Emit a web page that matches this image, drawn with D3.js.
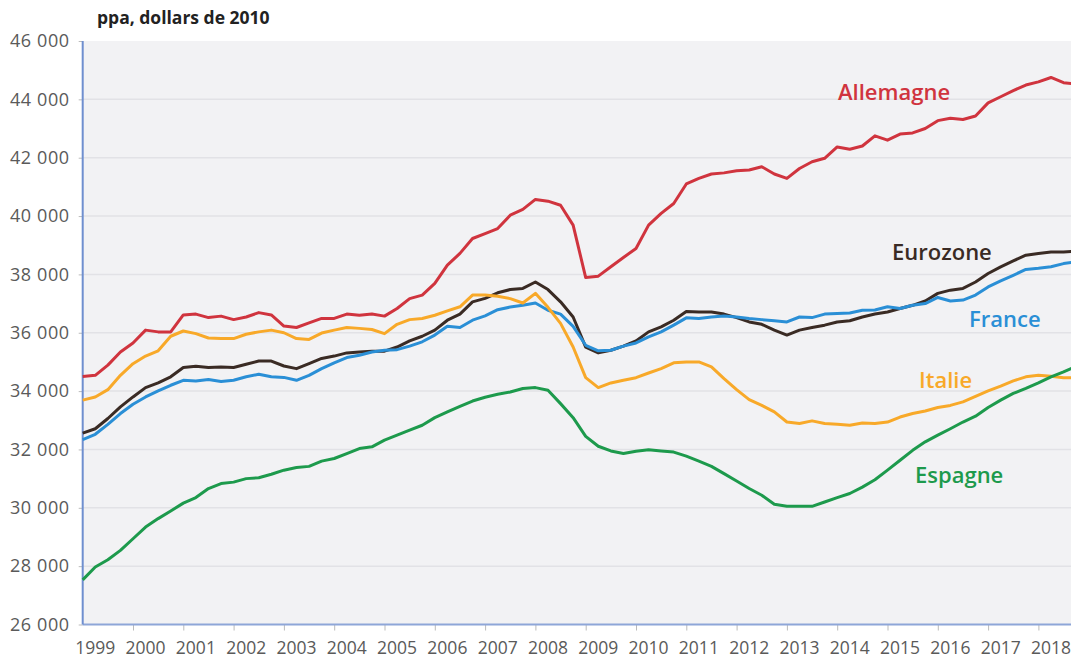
<!DOCTYPE html>
<html>
<head>
<meta charset="utf-8">
<script src="https://cdn.jsdelivr.net/npm/d3@7"></script>
<style>
  body { margin: 0; background: #fff; }
  svg { display: block; font-family: "Open Sans", sans-serif; }
</style>
</head>
<body>
<svg id="chart"></svg>
<script>
// quarterly values, 1999Q1 .. 2018Q4
const startYear = 1999;
const yearTicks = d3.range(1999, 2019);
const yTicks = d3.range(26000, 46001, 2000);

const allemagne = [
  34500, 34540, 34890, 35340, 35650, 36090, 36030, 36030,
  36610, 36640, 36520, 36570, 36450, 36540, 36690, 36610,
  36230, 36180, 36340, 36490, 36490, 36640, 36600, 36640,
  36570, 36830, 37170, 37290, 37690, 38320, 38720, 39230,
  39400, 39570, 40030, 40230, 40570, 40510, 40370, 39690,
  37890, 37940, 38260, 38580, 38890, 39690, 40090, 40430,
  41100, 41290, 41440, 41480, 41550, 41580, 41690, 41440,
  41290, 41630, 41860, 41980, 42370, 42290, 42400, 42750,
  42600, 42810, 42850, 43000, 43270, 43350, 43310, 43430,
  43880, 44090, 44300, 44490, 44600, 44750, 44570, 44520
];
const eurozone = [
  32560, 32710, 33060, 33460, 33800, 34120, 34280, 34490,
  34810, 34850, 34810, 34830, 34810, 34920, 35030, 35030,
  34860, 34770, 34940, 35120, 35200, 35310, 35340, 35370,
  35370, 35510, 35720, 35880, 36090, 36430, 36640, 37060,
  37180, 37370, 37480, 37520, 37740, 37480, 37060, 36540,
  35510, 35310, 35400, 35540, 35720, 36030, 36200, 36430,
  36730, 36710, 36710, 36640, 36520, 36370, 36290, 36090,
  35920, 36090, 36180, 36260, 36370, 36410, 36540, 36640,
  36710, 36830, 36940, 37090, 37350, 37460, 37520, 37740,
  38030, 38260, 38460, 38660, 38720, 38770, 38770, 38800
];
const france = [
  32340, 32520, 32860, 33230, 33550, 33800, 34010, 34200,
  34370, 34350, 34400, 34330, 34370, 34490, 34580, 34490,
  34470, 34370, 34540, 34770, 34970, 35150, 35230, 35340,
  35400, 35420, 35540, 35690, 35920, 36220, 36180, 36430,
  36580, 36790, 36880, 36940, 37020, 36770, 36640, 36220,
  35570, 35380, 35400, 35540, 35650, 35860, 36030, 36260,
  36510, 36490, 36540, 36570, 36540, 36490, 36450, 36410,
  36370, 36540, 36520, 36640, 36660, 36680, 36770, 36780,
  36890, 36830, 36940, 37000, 37210, 37090, 37120, 37290,
  37570, 37780, 37970, 38170, 38210, 38260, 38370, 38430
];
const italie = [
  33690, 33800, 34050, 34540, 34940, 35200, 35380, 35880,
  36060, 35970, 35820, 35800, 35800, 35950, 36030, 36090,
  36000, 35800, 35770, 35990, 36090, 36180, 36150, 36110,
  35970, 36290, 36450, 36490, 36600, 36750, 36890, 37290,
  37290, 37250, 37170, 37020, 37350, 36870, 36320, 35510,
  34460, 34120, 34280, 34370, 34460, 34620, 34770, 34970,
  35000, 35000, 34830, 34430, 34050, 33710, 33510, 33290,
  32940, 32890, 32980, 32890, 32860, 32830, 32910, 32890,
  32940, 33110, 33230, 33320, 33440, 33510, 33630, 33820,
  34010, 34170, 34350, 34490, 34540, 34510, 34460, 34450
];
const espagne = [
  27530, 27970, 28220, 28540, 28940, 29340, 29630, 29890,
  30160, 30350, 30660, 30830, 30880, 31000, 31030, 31150,
  31290, 31380, 31420, 31600, 31690, 31860, 32030, 32090,
  32320, 32490, 32660, 32830, 33090, 33290, 33480, 33660,
  33790, 33890, 33970, 34090, 34120, 34030, 33570, 33090,
  32450, 32110, 31950, 31860, 31940, 31990, 31950, 31910,
  31770, 31600, 31420, 31170, 30920, 30660, 30430, 30120,
  30050, 30050, 30050, 30200, 30350, 30490, 30710, 30960,
  31290, 31630, 31970, 32260, 32490, 32710, 32940, 33140,
  33440, 33690, 33920, 34090, 34280, 34490, 34660, 34850
];

const series = [
  { name: "Allemagne", values: allemagne, color: "#d0343e", lx: 838, ly: 100 },
  { name: "Eurozone", values: eurozone, color: "#3a2b24", lx: 892, ly: 260 },
  { name: "France", values: france, color: "#2a8fd6", lx: 969, ly: 327 },
  { name: "Italie", values: italie, color: "#f8a929", lx: 919, ly: 388 },
  { name: "Espagne", values: espagne, color: "#1d9a4c", lx: 915, ly: 483 }
];

const width = 1071, height = 659;
const margin = { top: 41, bottom: 624.5, left: 82.7 };

const fr = d3.formatLocale({ decimal: ",", thousands: "\u00a0", grouping: [3], currency: ["", ""] });
const fmt = fr.format(",d");

const x = d3.scaleLinear()
  .domain([1999, 2019])
  .range([margin.left, margin.left + 20 * 50.3]);

const y = d3.scaleLinear()
  .domain([26000, 46000])
  .range([margin.bottom, margin.top]);

const svg = d3.select("#chart")
  .attr("width", width)
  .attr("height", height)
  .attr("viewBox", [0, 0, width, height]);

// plot background
svg.append("rect")
  .attr("x", x(1999))
  .attr("y", y(46000))
  .attr("width", width - x(1999))
  .attr("height", y(26000) - y(46000))
  .attr("fill", "#f2f2f4");

// grid
svg.append("g")
  .selectAll("line")
  .data(yTicks.filter(d => d > 26000 && d < 46000))
  .join("line")
  .attr("x1", x(1999))
  .attr("x2", width)
  .attr("y1", d => y(d))
  .attr("y2", d => y(d))
  .attr("stroke", "#e2e2e6")
  .attr("stroke-width", 1.5);

// y axis
svg.append("g")
  .attr("transform", `translate(${x(1999)},0)`)
  .call(d3.axisLeft(y).tickValues(yTicks).tickFormat(fmt).tickSize(4).tickPadding(9))
  .call(g => g.select(".domain").remove())
  .call(g => g.selectAll(".tick line").attr("stroke", "#bbb"))
  .call(g => g.selectAll(".tick text")
    .attr("fill", "#5a5a5a")
    .attr("font-size", 18)
    .attr("letter-spacing", 0.6)
    .attr("font-family", "Open Sans, sans-serif"));

// x axis
svg.append("g")
  .attr("transform", `translate(0,${y(26000)})`)
  .call(d3.axisBottom(x).tickValues(d3.range(2000, 2019)).tickFormat("").tickSize(6))
  .call(g => g.select(".domain").remove())
  .call(g => g.selectAll(".tick line").attr("stroke", "#bbb"));

svg.append("g")
  .selectAll("text")
  .data(yearTicks)
  .join("text")
  .attr("x", d => x(d + 0.25))
  .attr("y", 654)
  .attr("text-anchor", "middle")
  .attr("fill", "#5a5a5a")
  .attr("font-size", 17.5)
  .text(d => d);

// axis lines
svg.append("line")
  .attr("x1", x(1999)).attr("x2", width)
  .attr("y1", y(26000)).attr("y2", y(26000))
  .attr("stroke", "#8ea6d8").attr("stroke-width", 2);
svg.append("line")
  .attr("x1", x(1999)).attr("x2", x(1999))
  .attr("y1", y(46000)).attr("y2", y(26000))
  .attr("stroke", "#6f8fcf").attr("stroke-width", 2);

// lines
const line = d3.line()
  .x((d, i) => x(startYear + i / 4))
  .y(d => y(d));

svg.append("g")
  .selectAll("path")
  .data(series)
  .join("path")
  .attr("fill", "none")
  .attr("stroke", d => d.color)
  .attr("stroke-width", 3)
  .attr("stroke-linejoin", "round")
  .attr("d", d => line(d.values));

// labels
svg.append("g")
  .selectAll("text")
  .data(series)
  .join("text")
  .attr("x", d => d.lx)
  .attr("y", d => d.ly)
  .attr("fill", d => d.color)
  .attr("font-size", 22)
  .attr("font-weight", 600)
  .text(d => d.name);

// unit title
svg.append("text")
  .attr("x", 97)
  .attr("y", 24)
  .attr("fill", "#222")
  .attr("font-size", 17.5)
  .attr("font-weight", 700)
  .text("ppa, dollars de 2010");
</script>
</body>
</html>
